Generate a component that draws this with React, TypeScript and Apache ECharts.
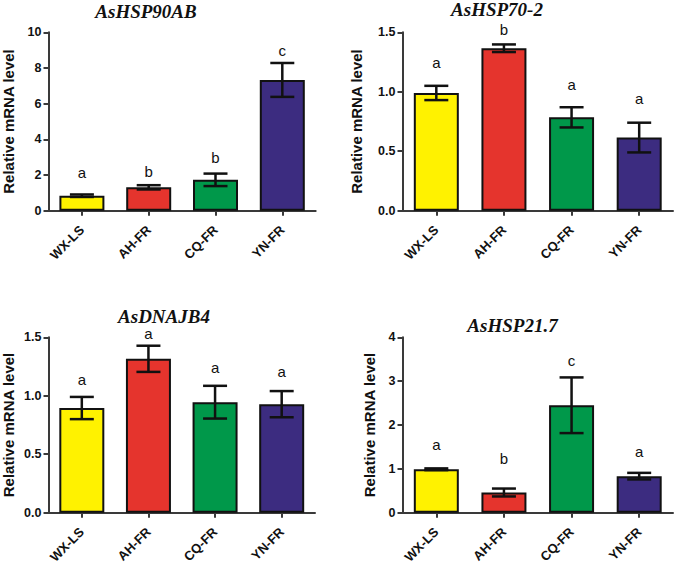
import React, { useEffect, useRef } from 'react';
import * as echarts from 'echarts';

const categories = ['WX-LS', 'AH-FR', 'CQ-FR', 'YN-FR'];
const barColors = ['#FFF200', '#E5342D', '#00984A', '#3C2C80'];

const hsp90Mean = [0.84, 1.31, 1.73, 7.33];
const hsp90Err = [0.07, 0.12, 0.35, 0.95];
const hsp90Letters = ['a', 'b', 'b', 'c'];
const hsp90LetterY = [2.13, 2.19, 2.99, 9.0];

const hsp70Mean = [0.99, 1.366, 0.785, 0.615];
const hsp70Err = [0.06, 0.032, 0.085, 0.125];
const hsp70Letters = ['a', 'b', 'a', 'a'];
const hsp70LetterY = [1.25, 1.525, 1.057, 0.945];

const dnajMean = [0.895, 1.316, 0.945, 0.928];
const dnajErr = [0.095, 0.112, 0.14, 0.112];
const dnajLetters = ['a', 'a', 'a', 'a'];
const dnajLetterY = [1.14, 1.53, 1.24, 1.21];

const hsp21Mean = [0.99, 0.46, 2.45, 0.833];
const hsp21Err = [0.02, 0.09, 0.635, 0.075];
const hsp21Letters = ['a', 'b', 'c', 'a'];
const hsp21LetterY = [1.56, 1.23, 3.47, 1.40];

const panels = [
  { title: 'AsHSP90AB', mean: hsp90Mean, err: hsp90Err, letters: hsp90Letters, letterY: hsp90LetterY, max: 10, interval: 2, decimals: 0,
    grid: { left: 45.7, top: 32.3, width: 270, height: 178.4 }, nameGap: 32.5, titleX: 146, titleY: 11 },
  { title: 'AsHSP70-2', mean: hsp70Mean, err: hsp70Err, letters: hsp70Letters, letterY: hsp70LetterY, max: 1.5, interval: 0.5, decimals: 1,
    grid: { left: 402.5, top: 32.3, width: 270.5, height: 178.4 }, nameGap: 38.5, titleX: 497, titleY: 9 },
  { title: 'AsDNAJB4', mean: dnajMean, err: dnajErr, letters: dnajLetters, letterY: dnajLetterY, max: 1.5, interval: 0.5, decimals: 1,
    grid: { left: 45.7, top: 337.3, width: 269.3, height: 179.4 }, nameGap: 32.5, titleX: 164, titleY: 316 },
  { title: 'AsHSP21.7', mean: hsp21Mean, err: hsp21Err, letters: hsp21Letters, letterY: hsp21LetterY, max: 4, interval: 1, decimals: 0,
    grid: { left: 402.5, top: 337.3, width: 270.5, height: 179.4 }, nameGap: 25.5, titleX: 512.5, titleY: 325 },
];

const SANS = '"Liberation Sans", Arial, Helvetica, sans-serif';
const SERIF = '"Liberation Serif", "Times New Roman", serif';
const AXIS_COLOR = '#3a3a3a';

export default function App() {
  const ref = useRef<HTMLDivElement>(null);
  useEffect(() => {
    const chart = echarts.init(ref.current as HTMLDivElement, null, { renderer: 'svg' });
    const grids = panels.map((p) => ({ ...p.grid, containLabel: false }));
    const xAxes = panels.map((p, k) => ({
      type: 'category',
      gridIndex: k,
      data: categories,
      axisLine: { show: true, lineStyle: { color: AXIS_COLOR, width: 2 } },
      axisTick: { show: true, alignWithLabel: true, length: 5, lineStyle: { color: AXIS_COLOR, width: 2 } },
      axisLabel: { rotate: 45, interval: 0, margin: 17, fontFamily: SANS, fontWeight: 'bold', fontSize: 13, color: '#111' },
      splitLine: { show: false },
    }));
    const yAxes = panels.map((p, k) => ({
      type: 'value',
      gridIndex: k,
      min: 0,
      max: p.max,
      interval: p.interval,
      name: 'Relative mRNA level',
      nameLocation: 'middle',
      nameGap: p.nameGap,
      nameTextStyle: { fontFamily: SANS, fontWeight: 'bold', fontSize: 15, color: '#111' },
      axisLine: { show: true, lineStyle: { color: AXIS_COLOR, width: 2 } },
      axisTick: { show: true, length: 5, lineStyle: { color: AXIS_COLOR, width: 2 } },
      axisLabel: {
        margin: 7, fontFamily: SANS, fontWeight: 'bold', fontSize: 12.5, color: '#111',
        formatter: (v: number) => v.toFixed(p.decimals),
      },
      splitLine: { show: false },
    }));
    const series: any[] = [];
    panels.forEach((p, k) => {
      series.push({
        type: 'bar',
        xAxisIndex: k,
        yAxisIndex: k,
        barWidth: 45,
        z: 2,
        itemStyle: { borderColor: '#111', borderWidth: 2 },
        data: p.mean.map((v, i) => ({ value: v, itemStyle: { color: barColors[i] } })),
      });
      series.push({
        type: 'custom',
        xAxisIndex: k,
        yAxisIndex: k,
        z: 5,
        data: p.mean.map((v, i) => [i, v, p.err[i], p.letterY[i]]),
        encode: { x: 0, y: 1 },
        renderItem: (params: any, api: any) => {
          const i = api.value(0);
          const m = api.value(1);
          const e = api.value(2);
          const ly = api.value(3);
          const top = api.coord([i, m + e]);
          const bot = api.coord([i, m - e]);
          const lp = api.coord([i, ly]);
          const x = top[0];
          const cap = 12;
          const style = { stroke: '#111', lineWidth: 2.5 };
          return {
            type: 'group',
            children: [
              { type: 'line', shape: { x1: x, y1: top[1], x2: x, y2: bot[1] }, style },
              { type: 'line', shape: { x1: x - cap, y1: top[1], x2: x + cap, y2: top[1] }, style },
              { type: 'line', shape: { x1: x - cap, y1: bot[1], x2: x + cap, y2: bot[1] }, style },
              {
                type: 'text', x: lp[0], y: lp[1],
                style: {
                  text: p.letters[params.dataIndex], fill: '#111',
                  font: `15px ${SANS}`, align: 'center', verticalAlign: 'middle',
                },
              },
            ],
          };
        },
      });
    });
    const graphic: any[] = panels.map((p) => ({
      type: 'text',
      x: p.titleX,
      y: p.titleY,
      style: {
        text: p.title, fill: '#111', font: `italic bold 19px ${SERIF}`,
        align: 'center', verticalAlign: 'middle',
      },
    }));
    chart.setOption({
      animation: false,
      backgroundColor: '#ffffff',
      grid: grids,
      xAxis: xAxes,
      yAxis: yAxes,
      series,
      graphic,
    });
    return () => chart.dispose();
  }, []);
  return (
    <div
      ref={ref}
      style={{ position: 'absolute', left: 0, top: 0, width: 685, height: 566, background: '#fff' }}
    />
  );
}
